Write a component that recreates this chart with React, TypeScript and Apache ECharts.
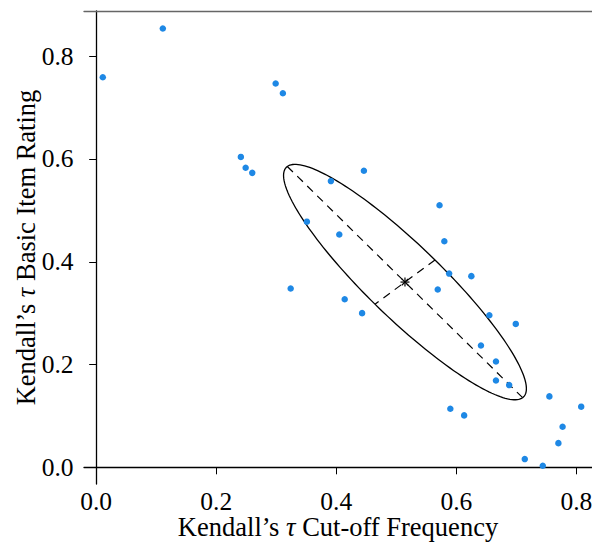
import React, { useEffect, useRef } from "react";
import * as echarts from "echarts";

// Kendall's tau: cut-off frequency (x) vs basic item rating (y)
const cutoffTau = [
  0.011, 0.111, 0.299, 0.311, 0.241, 0.249, 0.26, 0.446, 0.391, 0.572, 0.351,
  0.405, 0.58, 0.588, 0.625, 0.324, 0.569, 0.414, 0.443, 0.655, 0.699, 0.641,
  0.666, 0.666, 0.688, 0.755, 0.808, 0.59, 0.613, 0.777, 0.77, 0.714, 0.744,
];
const ratingTau = [
  0.759, 0.854, 0.747, 0.728, 0.604, 0.583, 0.573, 0.577, 0.557, 0.51, 0.478,
  0.453, 0.44, 0.377, 0.372, 0.348, 0.346, 0.327, 0.3, 0.296, 0.279, 0.237,
  0.206, 0.169, 0.16, 0.138, 0.118, 0.114, 0.101, 0.079, 0.047, 0.016, 0.003,
];

// Ellipse half-axis vectors in data units
const ellipseMajor = [0.196, -0.225];
const ellipseMinor = [0.05, 0.043];

const xTicks = [0, 0.2, 0.4, 0.6, 0.8];
const yTicks = [0, 0.2, 0.4, 0.6, 0.8];
const xTickLabels = ["0.0", "0.2", "0.4", "0.6", "0.8"];
const yTickLabels = ["0.0", "0.2", "0.4", "0.6", "0.8"];

const X_MIN = -0.0203;
const X_MAX = 0.826;
const Y_MIN = -0.0325;
const Y_MAX = 0.888;

const FONT = "Liberation Serif";
const FS = 25.5;
const TITLE_FS = 26.5;
const FONT_CSS = `${FS}px "Liberation Serif", "Times New Roman", serif`;

export default function App() {
  const ref = useRef<HTMLDivElement>(null);

  useEffect(() => {
    if (!ref.current) return;
    const chart = echarts.init(ref.current, undefined, { renderer: "svg" });

    const n = cutoffTau.length;
    const cx = cutoffTau.reduce((a, b) => a + b, 0) / n;
    const cy = ratingTau.reduce((a, b) => a + b, 0) / n;
    const points = cutoffTau.map((x, i) => [x, ratingTau[i]]);

    const titleStyle = { fontFamily: FONT, fontSize: TITLE_FS, color: "#000" };

    const option: any = {
      animation: false,
      textStyle: { fontFamily: FONT, fontSize: FS, color: "#000" },
      grid: {
        left: 84,
        right: 0,
        top: 11,
        bottom: 58,
        containLabel: false,
        outerBoundsMode: "none",
      },
      xAxis: [
        {
          type: "value",
          min: X_MIN,
          max: X_MAX,
          axisLine: { show: true, lineStyle: { color: "#000", width: 1.3 } },
          axisTick: {
            show: true,
            length: 7,
            customValues: xTicks,
            lineStyle: { color: "#000", width: 1 },
          },
          axisLabel: { show: false },
          splitLine: { show: false },
          name: "Kendall\u2019s {t|\u03C4} Cut-off Frequency",
          nameLocation: "middle",
          nameGap: 32,
          nameTextStyle: {
            ...titleStyle,
            lineHeight: 22,
            rich: {
              t: { ...titleStyle, fontStyle: "italic", lineHeight: 22 },
            },
          },
        },
        {
          type: "value",
          position: "top",
          min: X_MIN,
          max: X_MAX,
          axisLine: { show: true, lineStyle: { color: "#666", width: 1.3 } },
          axisTick: { show: false },
          axisLabel: { show: false },
          splitLine: { show: false },
        },
      ],
      yAxis: {
        type: "value",
        min: Y_MIN,
        max: Y_MAX,
        axisLine: { show: true, lineStyle: { color: "#000", width: 1.3 } },
        axisTick: {
          show: true,
          length: 7,
          customValues: yTicks,
          lineStyle: { color: "#000", width: 1 },
        },
        axisLabel: { show: false },
        splitLine: { show: false },
        name: "Kendall\u2019s {t|\u03C4} Basic Item Rating",
        nameLocation: "middle",
        nameGap: 45,
        nameTextStyle: {
          ...titleStyle,
          rich: {
            t: { ...titleStyle, fontStyle: "italic" },
          },
        },
      },
      series: [
        {
          type: "custom",
          coordinateSystem: "cartesian2d",
          silent: true,
          clip: false,
          data: [[cx, cy]],
          renderItem: (_params: any, api: any) => {
            const pts: number[][] = [];
            const N = 180;
            for (let i = 0; i <= N; i++) {
              const t = (i / N) * Math.PI * 2;
              const x = cx + ellipseMajor[0] * Math.cos(t) + ellipseMinor[0] * Math.sin(t);
              const y = cy + ellipseMajor[1] * Math.cos(t) + ellipseMinor[1] * Math.sin(t);
              pts.push(api.coord([x, y]));
            }
            const c = api.coord([cx, cy]);
            const a1 = api.coord([cx + ellipseMajor[0], cy + ellipseMajor[1]]);
            const a2 = api.coord([cx - ellipseMajor[0], cy - ellipseMajor[1]]);
            const b1 = api.coord([cx + ellipseMinor[0], cy + ellipseMinor[1]]);
            const b2 = api.coord([cx - ellipseMinor[0], cy - ellipseMinor[1]]);
            const dash = { stroke: "#000", lineWidth: 1.2, lineDash: [8, 6], fill: "none" };
            const star: any[] = [];
            const r = 4.5;
            for (let k = 0; k < 4; k++) {
              const ang = (k * Math.PI) / 4;
              star.push({
                type: "line",
                shape: {
                  x1: c[0] - r * Math.cos(ang),
                  y1: c[1] - r * Math.sin(ang),
                  x2: c[0] + r * Math.cos(ang),
                  y2: c[1] + r * Math.sin(ang),
                },
                style: { stroke: "#000", lineWidth: 1.2 },
              });
            }
            return {
              type: "group",
              children: [
                {
                  type: "polyline",
                  shape: { points: pts },
                  style: { stroke: "#000", lineWidth: 1.3, fill: "none" },
                },
                { type: "line", shape: { x1: a1[0], y1: a1[1], x2: a2[0], y2: a2[1] }, style: dash },
                { type: "line", shape: { x1: b1[0], y1: b1[1], x2: b2[0], y2: b2[1] }, style: dash },
                ...star,
              ],
            };
          },
        },
        {
          type: "scatter",
          data: points,
          symbol: "circle",
          symbolSize: 6.5,
          itemStyle: { color: "#1E88E5", opacity: 1 },
          z: 3,
        },
        // x tick labels, placed through the axis scale
        {
          type: "custom",
          coordinateSystem: "cartesian2d",
          silent: true,
          clip: false,
          data: xTicks.map((v, i) => [v, Y_MIN, i]),
          renderItem: (params: any, api: any) => {
            const p = api.coord([api.value(0), Y_MIN]);
            return {
              type: "text",
              x: p[0],
              y: p[1] + 17.4,
              style: {
                text: xTickLabels[params.dataIndex],
                font: FONT_CSS,
                fill: "#000",
                align: "center",
                verticalAlign: "middle",
              },
            };
          },
        },
        // y tick labels
        {
          type: "custom",
          coordinateSystem: "cartesian2d",
          silent: true,
          clip: false,
          data: yTicks.map((v, i) => [X_MIN, v, i]),
          renderItem: (params: any, api: any) => {
            const p = api.coord([X_MIN, api.value(1)]);
            return {
              type: "text",
              x: p[0] - 10.5,
              y: p[1],
              style: {
                text: yTickLabels[params.dataIndex],
                font: FONT_CSS,
                fill: "#000",
                align: "right",
                verticalAlign: "middle",
              },
            };
          },
        },
      ],
    };

    chart.setOption(option);
    return () => chart.dispose();
  }, []);

  return (
    <div
      ref={ref}
      style={{ position: "fixed", left: 0, top: 0, width: 592, height: 542, background: "#fff" }}
    />
  );
}
